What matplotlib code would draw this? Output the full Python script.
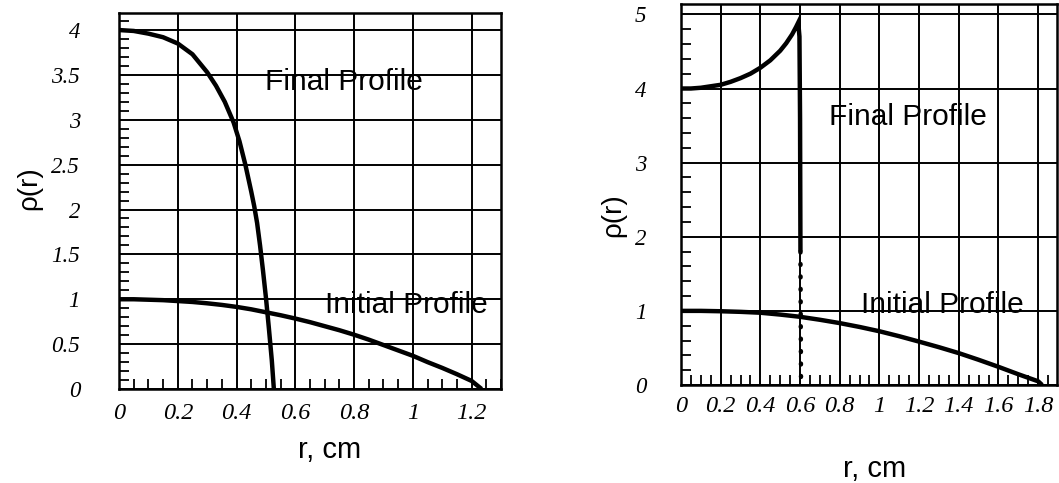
import matplotlib
matplotlib.use("Agg")
import matplotlib.pyplot as plt
from matplotlib.ticker import MultipleLocator, FixedLocator

# ---------------- data ----------------
# Left panel
left_final_r = [0.0, 0.05, 0.1, 0.15, 0.2, 0.25, 0.3, 0.33, 0.36, 0.39, 0.41, 0.43, 0.45,
                0.46, 0.47, 0.48, 0.49, 0.50, 0.51, 0.52, 0.527]
left_final_rho = [4.0, 3.99, 3.96, 3.92, 3.85, 3.73, 3.53, 3.38, 3.2, 2.97, 2.76, 2.5, 2.2,
                  2.04, 1.85, 1.6, 1.32, 1.02, 0.68, 0.32, 0.0]
left_init_r = [0.0, 0.05, 0.1, 0.15, 0.2, 0.25, 0.3, 0.35, 0.4, 0.45, 0.5, 0.55, 0.6, 0.65,
               0.7, 0.75, 0.8, 0.85, 0.9, 0.95, 1.0, 1.05, 1.1, 1.15, 1.2, 1.234]
left_init_rho = [1.0, 1.0, 0.995, 0.99, 0.98, 0.97, 0.955, 0.937, 0.915, 0.888, 0.855, 0.822,
                 0.785, 0.745, 0.70, 0.655, 0.605, 0.55, 0.49, 0.43, 0.37, 0.30, 0.235,
                 0.165, 0.09, 0.0]

# Right panel
right_final_r = [0.0, 0.05, 0.1, 0.15, 0.2, 0.25, 0.3, 0.35, 0.4, 0.45, 0.5, 0.53, 0.56,
                 0.58, 0.591, 0.597, 0.600, 0.602]
right_final_rho = [4.0, 4.0, 4.01, 4.03, 4.05, 4.09, 4.14, 4.2, 4.28, 4.38, 4.51, 4.61, 4.73,
                   4.83, 4.89, 4.7, 3.6, 1.8]
right_shock_r = [0.602, 0.605]
right_shock_rho = [1.8, 0.0]
right_init_r = [0.0, 0.1, 0.2, 0.3, 0.4, 0.5, 0.6, 0.7, 0.8, 0.9, 1.0, 1.1, 1.2, 1.3, 1.4,
                1.5, 1.6, 1.7, 1.8, 1.82]
right_init_rho = [1.0, 1.0, 0.995, 0.987, 0.975, 0.95, 0.92, 0.88, 0.835, 0.783, 0.725,
                  0.658, 0.585, 0.51, 0.43, 0.34, 0.245, 0.145, 0.05, 0.0]

left_xticks = [0, 0.2, 0.4, 0.6, 0.8, 1.0, 1.2]
left_xticklabels = ["0", "0.2", "0.4", "0.6", "0.8", "1", "1.2"]
left_yticks = [0, 0.5, 1, 1.5, 2, 2.5, 3, 3.5, 4]
left_yticklabels = ["0", "0.5", "1", "1.5", "2", "2.5", "3", "3.5", "4"]
right_xticks = [0, 0.2, 0.4, 0.6, 0.8, 1.0, 1.2, 1.4, 1.6, 1.8]
right_xticklabels = ["0", "0.2", "0.4", "0.6", "0.8", "1", "1.2", "1.4", "1.6", "1.8"]
right_yticks = [0, 1, 2, 3, 4, 5]
right_yticklabels = ["0", "1", "2", "3", "4", "5"]

xlabel = "r, cm"
ylabel = "ρ(r)"
final_label = "Final Profile"
initial_label = "Initial Profile"

# ---------------- figure ----------------
W, H = 1059, 483
fig = plt.figure(figsize=(W / 100, H / 100), dpi=100)

def px_axes(l, r, t, b):
    return fig.add_axes([l / W, 1 - b / H, (r - l) / W, (b - t) / H])

ax1 = px_axes(119, 501, 13, 389)
ax2 = px_axes(681, 1057, 4, 385)

sans = "Liberation Sans"
serif = "Liberation Serif"
xtick_fs = 17.5
ytick_fs = 16.5
lab_fs = 20
txt_fs = 21.5
curve_lw = 3.2

def style(ax, xlim, ylim, xt, xtl, yt, ytl, xminor, yminor, xpad, ypad):
    ax.set_xlim(*xlim)
    ax.set_ylim(*ylim)
    ax.xaxis.set_major_locator(FixedLocator(xt))
    ax.yaxis.set_major_locator(FixedLocator(yt))
    ax.xaxis.set_minor_locator(MultipleLocator(xminor))
    ax.yaxis.set_minor_locator(MultipleLocator(yminor))
    ax.tick_params(which="both", direction="in", top=False, right=False, color="black")
    ax.tick_params(which="major", length=0)
    ax.tick_params(axis="x", which="major", pad=xpad, labelsize=xtick_fs)
    ax.tick_params(axis="y", which="major", pad=ypad, labelsize=ytick_fs)
    ax.tick_params(which="minor", length=7, width=1.3)
    ax.set_xticklabels(xtl)
    ax.set_yticklabels(ytl)
    for lab in ax.get_xticklabels():
        lab.set_fontfamily(serif)
        lab.set_fontstyle("italic")
        lab.set_fontsize(xtick_fs)
    for lab in ax.get_yticklabels():
        lab.set_fontfamily(serif)
        lab.set_fontstyle("italic")
        lab.set_fontsize(ytick_fs)
    ax.grid(True, which="major", color="black", linewidth=1.4)
    for s in ax.spines.values():
        s.set_linewidth(1.8)
        s.set_color("black")
    ax.set_axisbelow(True)

style(ax1, (0, 1.30), (0, 4.19), left_xticks, left_xticklabels, left_yticks, left_yticklabels,
      0.05, 0.1, 10, 28)
style(ax2, (0, 1.895), (0, 5.14), right_xticks, right_xticklabels, right_yticks, right_yticklabels,
      0.05, 0.2, 8, 25)

# curves
ax1.plot(left_final_r, left_final_rho, color="black", lw=curve_lw, solid_capstyle="butt")
ax1.plot(left_init_r, left_init_rho, color="black", lw=curve_lw, solid_capstyle="butt")
ax2.plot(right_final_r, right_final_rho, color="black", lw=curve_lw, solid_capstyle="butt",
         solid_joinstyle="miter")
ax2.plot(right_shock_r, right_shock_rho, color="black", lw=3.2, linestyle=(0, (0.2, 2.6)),
         dash_capstyle="round")
ax2.plot(right_init_r, right_init_rho, color="black", lw=curve_lw, solid_capstyle="butt")

# annotations
ax1.text(0.497, 3.42, final_label, fontfamily=sans, fontsize=txt_fs, va="center", ha="left")
ax1.text(0.70, 0.94, initial_label, fontfamily=sans, fontsize=txt_fs, va="center", ha="left")
ax2.text(0.747, 3.61, final_label, fontfamily=sans, fontsize=txt_fs, va="center", ha="left")
ax2.text(0.907, 1.08, initial_label, fontfamily=sans, fontsize=txt_fs, va="center", ha="left")

# axis labels
ax1.set_xlabel(xlabel, fontfamily=sans, fontsize=21)
ax1.xaxis.set_label_coords(0.55, -0.162)
ax1.xaxis.label.set_va("center")
ax1.set_ylabel(ylabel, fontfamily=sans, fontsize=lab_fs)
ax1.yaxis.set_label_coords(-0.236, 0.535)
ax1.yaxis.label.set_va("center")

ax2.set_xlabel(xlabel, fontfamily=sans, fontsize=21)
ax2.xaxis.set_label_coords(0.515, -0.22)
ax2.xaxis.label.set_va("center")
ax2.set_ylabel(ylabel, fontfamily=sans, fontsize=lab_fs)
ax2.yaxis.set_label_coords(-0.18, 0.445)
ax2.yaxis.label.set_va("center")

fig.savefig("out.png", dpi=100, facecolor="white")
